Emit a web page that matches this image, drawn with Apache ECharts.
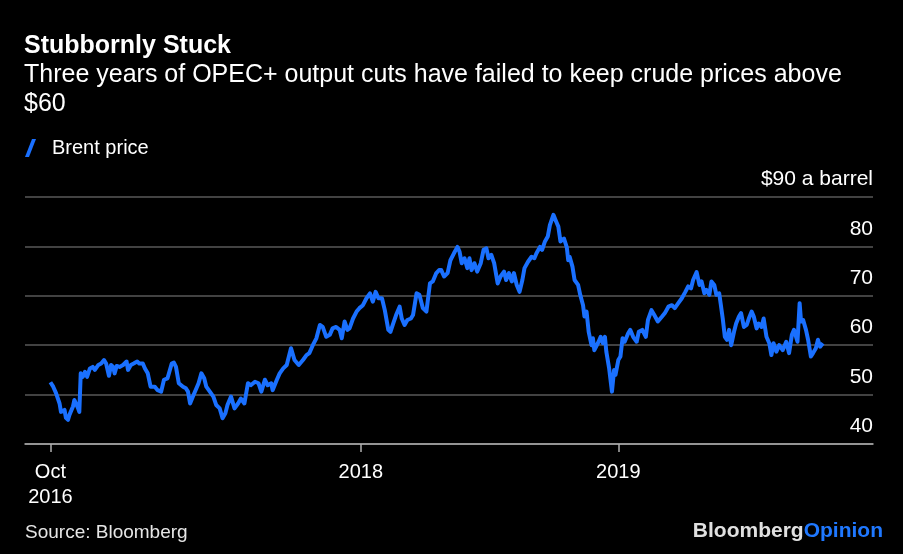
<!DOCTYPE html>
<html>
<head>
<meta charset="utf-8">
<script src="https://cdn.jsdelivr.net/npm/echarts@6/dist/echarts.min.js"></script>
<style>html,body{margin:0;padding:0;background:#000;}#c{width:903px;height:554px;}</style>
</head>
<body>
<div id="c"></div>
<script>
const dates = ['2016-10-18','2016-10-22','2016-10-26','2016-10-31','2016-11-02','2016-11-07','2016-11-09','2016-11-12','2016-11-14','2016-11-19','2016-11-21','2016-11-23','2016-11-26','2016-11-28','2016-11-30','2016-12-03','2016-12-06','2016-12-09','2016-12-13','2016-12-17','2016-12-20','2016-12-25','2016-12-29',
'2017-01-02','2017-01-05','2017-01-09','2017-01-12','2017-01-15','2017-01-17','2017-01-20','2017-01-24','2017-01-29','2017-02-03','2017-02-05','2017-02-09','2017-02-13','2017-02-18','2017-02-21','2017-02-26','2017-03-01','2017-03-05','2017-03-09','2017-03-15','2017-03-19','2017-03-24','2017-03-28','2017-04-02','2017-04-08','2017-04-11','2017-04-14','2017-04-18','2017-04-24','2017-04-28','2017-05-01','2017-05-04','2017-05-08','2017-05-13','2017-05-16','2017-05-20','2017-05-24','2017-05-27','2017-06-01','2017-06-06','2017-06-10','2017-06-15','2017-06-19','2017-06-23','2017-06-26','2017-07-01','2017-07-06','2017-07-11','2017-07-15','2017-07-20','2017-07-25','2017-07-29','2017-08-04','2017-08-09','2017-08-13','2017-08-18','2017-08-22','2017-08-27','2017-08-29','2017-09-04','2017-09-08','2017-09-13','2017-09-18','2017-09-24','2017-09-29','2017-10-05','2017-10-11','2017-10-16','2017-10-20','2017-10-25','2017-10-30','2017-11-04','2017-11-08','2017-11-13','2017-11-18','2017-11-22','2017-11-27','2017-12-02','2017-12-05','2017-12-09','2017-12-13','2017-12-16','2017-12-21','2017-12-26','2017-12-30',
'2018-01-04','2018-01-09','2018-01-14','2018-01-18','2018-01-22','2018-01-26','2018-01-31','2018-02-04','2018-02-09','2018-02-12','2018-02-16','2018-02-20','2018-02-25','2018-02-28','2018-03-04','2018-03-08','2018-03-13','2018-03-16','2018-03-21','2018-03-25','2018-03-30','2018-04-04','2018-04-09','2018-04-13','2018-04-18','2018-04-22','2018-04-25','2018-04-29','2018-05-04','2018-05-08','2018-05-13','2018-05-18','2018-05-21','2018-05-24','2018-05-28','2018-06-01','2018-06-04','2018-06-07','2018-06-11','2018-06-15','2018-06-20','2018-06-24','2018-06-28','2018-07-01','2018-07-05','2018-07-09','2018-07-14','2018-07-18','2018-07-23','2018-07-26','2018-07-30','2018-08-03','2018-08-06','2018-08-10','2018-08-14','2018-08-18','2018-08-21','2018-08-26','2018-08-31','2018-09-04','2018-09-07','2018-09-12','2018-09-15','2018-09-19','2018-09-23','2018-09-26','2018-10-01','2018-10-05','2018-10-08','2018-10-11','2018-10-16','2018-10-20','2018-10-22','2018-10-24','2018-10-28','2018-10-31','2018-11-05','2018-11-08','2018-11-12','2018-11-14','2018-11-17','2018-11-20','2018-11-24','2018-11-26','2018-11-28','2018-12-04','2018-12-07','2018-12-10','2018-12-13','2018-12-15','2018-12-19','2018-12-23','2018-12-26','2018-12-28',
'2019-01-01','2019-01-04','2019-01-07','2019-01-10','2019-01-15','2019-01-18','2019-01-22','2019-01-27','2019-01-30','2019-02-04','2019-02-09','2019-02-12','2019-02-17','2019-02-21','2019-02-26','2019-03-04','2019-03-08','2019-03-13','2019-03-18','2019-03-22','2019-03-27','2019-04-01','2019-04-06','2019-04-10','2019-04-14','2019-04-17','2019-04-22','2019-04-26','2019-04-29','2019-05-03','2019-05-06','2019-05-10','2019-05-13','2019-05-17','2019-05-20','2019-05-24','2019-05-26','2019-05-29','2019-06-01','2019-06-04','2019-06-07','2019-06-10','2019-06-14','2019-06-17','2019-06-21','2019-06-24','2019-06-28','2019-07-02','2019-07-05','2019-07-09','2019-07-12','2019-07-16','2019-07-19','2019-07-23','2019-07-26','2019-07-30','2019-08-03','2019-08-06','2019-08-09','2019-08-13','2019-08-17','2019-08-22','2019-08-27','2019-08-31','2019-09-04','2019-09-07','2019-09-12','2019-09-15','2019-09-17','2019-09-20','2019-09-24','2019-09-27','2019-10-01','2019-10-04','2019-10-08','2019-10-11','2019-10-14','2019-10-18'];

const brent = [52.5,51.6,50.3,48.2,46.5,46.9,45.3,44.9,45.9,47.6,48.9,48.3,47.3,46.5,54.3,53.6,54.6,53.6,55.3,55.6,55.0,56.0,56.3,
57.0,56.3,53.8,56.0,55.6,54.3,55.8,55.6,56.0,56.7,55.0,56.0,56.3,56.7,56.3,56.3,55.3,54.3,51.6,51.6,50.9,50.6,53.0,53.3,56.3,56.5,55.6,52.3,51.6,51.3,50.6,48.2,49.6,51.3,52.3,54.3,53.3,51.6,50.6,49.6,47.9,47.2,45.2,46.2,47.9,49.6,47.2,48.2,49.2,48.2,52.3,51.9,52.6,52.3,50.6,53.0,51.9,52.3,50.9,53.0,54.3,55.3,56.0,59.4,57.0,56.0,57.0,58.0,58.4,60.0,61.4,64.1,63.7,61.7,62.1,63.4,63.7,63.1,61.4,64.8,63.1,63.4,65.4,66.8,67.5,
68.1,69.5,70.5,68.8,70.8,69.5,69.5,67.1,63.1,62.7,64.4,66.1,67.8,65.4,64.1,65.1,65.4,66.1,70.5,70.2,67.5,66.8,72.5,72.9,74.6,75.2,75.2,73.9,74.6,77.2,78.6,79.9,78.9,76.6,77.6,75.6,77.6,75.2,76.6,74.9,76.6,79.3,79.6,77.6,78.3,76.6,72.5,73.9,74.9,73.2,74.6,72.9,74.6,72.2,70.8,73.2,75.6,76.9,77.9,77.6,78.6,79.9,79.3,81.0,82.0,84.3,86.4,85.0,84.0,81.0,81.6,79.8,77.2,77.9,75.9,73.2,72.2,70.2,68.1,65.8,66.8,62.7,60.0,61.4,59.0,60.7,61.7,60.4,61.7,58.7,55.3,50.6,55.0,54.0,
57.0,57.7,61.4,60.7,62.4,63.1,61.7,60.7,62.7,63.1,61.7,65.1,67.1,66.1,64.8,65.8,66.5,67.8,68.1,67.5,68.5,69.5,70.8,71.9,71.5,73.2,74.8,72.2,72.9,70.5,71.2,70.2,72.9,72.2,70.2,70.5,68.5,65.4,61.7,61.1,63.1,60.0,62.7,64.4,65.8,66.5,63.7,64.1,65.4,66.8,65.8,63.4,64.4,63.7,65.4,61.7,60.4,58.0,60.4,58.7,60.0,59.0,60.7,58.4,62.1,63.1,60.7,68.5,64.8,65.1,63.1,61.1,57.7,58.4,59.4,61.1,59.7,60.4];

const xTickDates = ['2016-10-18','2018-01-01','2019-01-01'];
const xTickLabels = ['Oct\n2016','2018','2019'];
const yTicks = [40,50,60,70,80,90];
const yTickLabels = ['40','50','60','70','80','$90 a barrel'];

const FONT = '"Liberation Sans", Arial, Helvetica, sans-serif';
const ts = s => new Date(s + 'T00:00:00Z').getTime();
const seriesData = dates.map((d, i) => [ts(d), brent[i]]);
const xTickVals = xTickDates.map(ts);

const chart = echarts.init(document.getElementById('c'), null, {renderer: 'canvas'});
chart.setOption({
  backgroundColor: '#000',
  animation: false,
  title: [
    {text: 'Stubbornly Stuck', left: 24, top: 32, padding: 0,
     textStyle: {color: '#fff', fontFamily: FONT, fontSize: 25, fontWeight: 'bold', lineHeight: 28}},
    {text: 'Three years of OPEC+ output cuts have failed to keep crude prices above\n$60', left: 24, top: 61, padding: 0,
     textStyle: {color: '#fff', fontFamily: FONT, fontSize: 25, fontWeight: 'normal', lineHeight: 29}}
  ],
  legend: {
    left: 25, top: 138, padding: 0,
    itemWidth: 11, itemHeight: 18, itemGap: 10,
    icon: 'path://M0,18 L7,0 L11,0 L4,18 Z',
    textStyle: {color: '#fff', fontFamily: FONT, fontSize: 20, padding: [0, 0, 0, 11]},
    data: ['Brent price']
  },
  grid: {left: 25, right: 30, top: 197, bottom: 110, containLabel: false},
  xAxis: {
    type: 'value',
    min: ts('2016-09-12'), max: ts('2019-12-28'),
    axisLine: {show: true, lineStyle: {color: '#b0b0b0', width: 1.5}},
    axisTick: {show: true, length: 8, lineStyle: {color: '#b0b0b0', width: 1.5}, customValues: xTickVals},
    axisLabel: {
      customValues: xTickVals,
      color: '#fff', fontFamily: FONT, fontSize: 20, lineHeight: 25, margin: 16,
      formatter: function (v) {
        const i = xTickVals.indexOf(v);
        return i >= 0 ? xTickLabels[i] : '';
      }
    },
    splitLine: {show: false}
  },
  yAxis: {
    type: 'value', position: 'right',
    min: 40, max: 90, interval: 10,
    axisLine: {show: false}, axisTick: {show: false},
    axisLabel: {
      inside: true, margin: 0,
      color: '#fff', fontFamily: FONT, fontSize: 21,
      verticalAlign: 'bottom', padding: [0, 0, 7, 0],
      formatter: function (v) {
        const i = yTicks.indexOf(v);
        return i >= 0 ? yTickLabels[i] : '';
      }
    },
    splitLine: {show: true, lineStyle: {color: '#585858', width: 1.5}}
  },
  series: [{
    name: 'Brent price', type: 'line', data: seriesData,
    showSymbol: false, symbol: 'none',
    lineStyle: {color: '#1a70ff', width: 4, join: 'round'},
    itemStyle: {color: '#1a70ff'},
    z: 5
  }],
  graphic: [
    {type: 'text', left: 25, top: 523,
     style: {text: 'Source: Bloomberg', fill: '#e6e6e6', font: '19px ' + FONT}},
    {type: 'text', right: 20, top: 521,
     style: {text: '{a|Bloomberg}{b|Opinion}', rich: {
       a: {fill: '#e0e0e0', fontFamily: FONT, fontSize: 21, fontWeight: 'bold'},
       b: {fill: '#1f78ff', fontFamily: FONT, fontSize: 21, fontWeight: 'bold'}
     }}}
  ]
});
</script>
</body>
</html>
